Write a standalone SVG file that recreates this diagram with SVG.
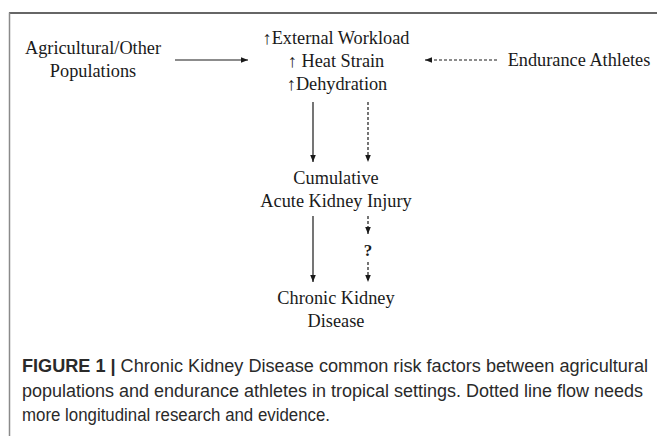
<svg xmlns="http://www.w3.org/2000/svg" width="657" height="436" viewBox="0 0 657 436">
<defs>
<marker id="ah" viewBox="0 0 10 10" refX="10" refY="5" markerWidth="7" markerHeight="7" markerUnits="userSpaceOnUse" orient="auto">
<path d="M0,1 L10,5 L0,9 z" fill="#1a1a1a"/>
</marker>
</defs>
<style>
.t{font-family:"Liberation Serif","Times New Roman",serif;font-size:18.3px;fill:#1a1a1a;text-anchor:middle}
.s{stroke:#1a1a1a;stroke-width:1.2;fill:none}
.d{stroke:#1a1a1a;stroke-width:1.2;fill:none;stroke-dasharray:3 2}
.c{font-family:"Liberation Sans",Arial,sans-serif;font-size:17.5px;fill:#2a2a2a}
</style>
<rect width="657" height="436" fill="#fff"/>
<line x1="9" y1="13" x2="657" y2="13" stroke="#333" stroke-width="1.5"/>
<line x1="9.5" y1="12.5" x2="9.5" y2="436" stroke="#8a8a8a" stroke-width="1.5"/>
<g id="risk">
<text class="t" x="336" y="44">↑External Workload</text>
<text class="t" x="336" y="67">↑ Heat Strain</text>
<text class="t" x="337" y="90">↑Dehydration</text>
</g>
<g id="agri">
<text class="t" x="93" y="54">Agricultural/Other</text>
<text class="t" x="93" y="77">Populations</text>
</g>
<g id="athletes">
<text class="t" x="579" y="66">Endurance Athletes</text>
</g>
<g id="aki">
<text class="t" x="336" y="184">Cumulative</text>
<text class="t" x="336" y="207">Acute Kidney Injury</text>
</g>
<g id="q">
<text class="t" x="368" y="256" style="font-weight:bold;font-size:17px">?</text>
</g>
<g id="ckd">
<text class="t" x="336" y="304">Chronic Kidney</text>
<text class="t" x="336" y="327">Disease</text>
</g>
<g id="connectors">
<line class="s" x1="175" y1="60" x2="248" y2="60" marker-end="url(#ah)"/>
<line class="d" x1="497" y1="60" x2="425" y2="60" marker-end="url(#ah)"/>
<line class="s" x1="313" y1="102" x2="313" y2="162" marker-end="url(#ah)"/>
<line class="d" x1="368" y1="102" x2="368" y2="162" marker-end="url(#ah)"/>
<line class="s" x1="313" y1="216" x2="313" y2="282" marker-end="url(#ah)"/>
<line class="d" x1="368" y1="216" x2="368" y2="234" marker-end="url(#ah)"/>
<line class="d" x1="368" y1="262" x2="368" y2="282" marker-end="url(#ah)"/>
</g>
<g id="caption">
<text class="c" x="22" y="372" textLength="626" lengthAdjust="spacingAndGlyphs"><tspan font-weight="bold">FIGURE 1 |</tspan> Chronic Kidney Disease common risk factors between agricultural</text>
<text class="c" x="22" y="397" textLength="621" lengthAdjust="spacingAndGlyphs">populations and endurance athletes in tropical settings. Dotted line flow needs</text>
<text class="c" x="22" y="421" textLength="308" lengthAdjust="spacingAndGlyphs">more longitudinal research and evidence.</text>
</g>
</svg>
